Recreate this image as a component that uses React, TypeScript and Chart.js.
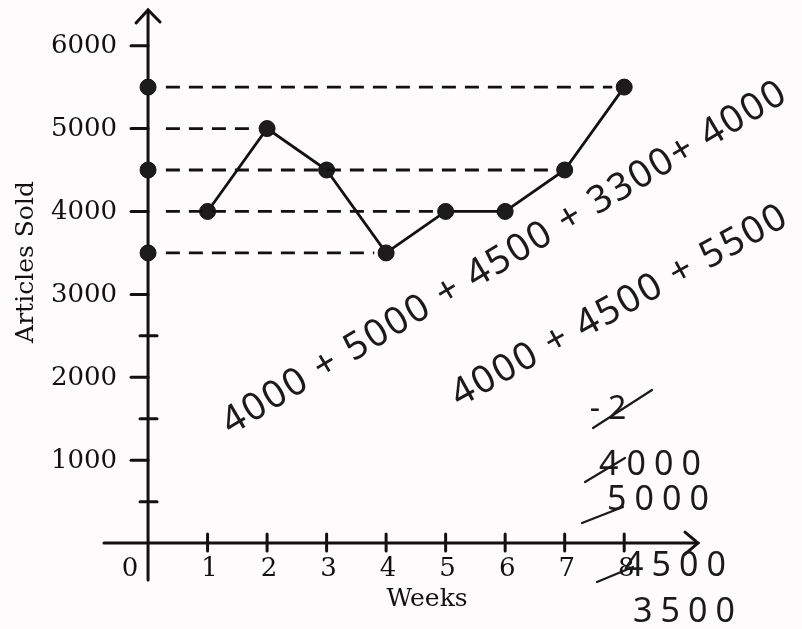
import { useEffect, useRef } from "react";
import { Chart, registerables } from "chart.js";

Chart.register(...registerables);

// ---- data ----
const weeks = [1, 2, 3, 4, 5, 6, 7, 8];
const articlesSold = [4000, 5000, 4500, 3500, 4000, 4000, 4500, 5500];
const axisMarkValues = [3500, 4500, 5500];
const guideLevels = [5500, 5000, 4500, 4000, 3500];
const guideEndWeeks = [8, 2, 7, 5, 4];
const yMajorTicks = [1000, 2000, 3000, 4000, 5000, 6000];
const yMinorTicks = [500, 1500, 2500];
const xTicks = [1, 2, 3, 4, 5, 6, 7, 8];
const xTickLabels = ["1", "2", "3", "4", "5", "6", "7", "8"];
const originLabel = "0";
const yAxisTitle = "Articles Sold";
const xAxisTitle = "Weeks";
const noteSumA = "4000 + 5000 + 4500 + 3300+ 4000";
const noteSumB = "4000 + 4500 + 5500";
const noteColumn = ["-2", "4000", "5000", "4500", "3500"];

const W = 802;
const H = 629;

const axesPlugin = {
  id: "handAxes",
  beforeDatasetsDraw(chart: any) {
    const { ctx, scales } = chart;
    const xs = scales.x;
    const ys = scales.y;
    const x0 = xs.getPixelForValue(0);
    const y0 = ys.getPixelForValue(0);
    const left = xs.getPixelForValue(xs.min);
    const right = xs.getPixelForValue(xs.max);
    const top = ys.getPixelForValue(ys.max);
    const bottom = ys.getPixelForValue(ys.min);
    ctx.save();
    ctx.strokeStyle = "#111";
    ctx.lineWidth = 3;
    ctx.lineCap = "round";
    // y axis
    ctx.beginPath();
    ctx.moveTo(x0, bottom);
    ctx.lineTo(x0, top + 1);
    ctx.stroke();
    ctx.beginPath();
    ctx.moveTo(x0 - 12, top + 14);
    ctx.lineTo(x0, top + 1);
    ctx.lineTo(x0 + 12, top + 13);
    ctx.stroke();
    // x axis
    ctx.beginPath();
    ctx.moveTo(left, y0);
    ctx.lineTo(right, y0);
    ctx.stroke();
    ctx.beginPath();
    ctx.moveTo(right - 13, y0 - 11);
    ctx.lineTo(right, y0);
    ctx.lineTo(right - 13, y0 + 11);
    ctx.stroke();
    // y ticks
    for (const v of yMajorTicks) {
      const y = ys.getPixelForValue(v);
      ctx.beginPath();
      ctx.moveTo(x0 - 17, y);
      ctx.lineTo(x0, y);
      ctx.stroke();
    }
    for (const v of yMinorTicks) {
      const y = ys.getPixelForValue(v);
      ctx.beginPath();
      ctx.moveTo(x0 - 8, y);
      ctx.lineTo(x0 + 9, y);
      ctx.stroke();
    }
    // x ticks
    for (const v of xTicks) {
      const x = xs.getPixelForValue(v);
      ctx.beginPath();
      ctx.moveTo(x, y0 - 9);
      ctx.lineTo(x, y0 + 8);
      ctx.stroke();
    }
    ctx.restore();
  },
  afterDraw(chart: any) {
    const { ctx, scales, chartArea } = chart;
    const xs = scales.x;
    const ys = scales.y;
    const x0 = xs.getPixelForValue(0);
    const y0 = ys.getPixelForValue(0);
    ctx.save();
    ctx.fillStyle = "#111";
    ctx.font = '26px "DejaVu Serif"';
    ctx.textAlign = "right";
    ctx.textBaseline = "middle";
    for (const v of yMajorTicks) {
      ctx.fillText(String(v), x0 - 31, ys.getPixelForValue(v) + 1);
    }
    ctx.textAlign = "center";
    xTicks.forEach((v, i) => {
      ctx.fillText(xTickLabels[i], xs.getPixelForValue(v) + 2, y0 + 26);
    });
    ctx.fillText(originLabel, x0 - 18, y0 + 26);
    // axis titles
    ctx.font = '25px "DejaVu Serif"';
    ctx.fillText(xAxisTitle, (chartArea.left + chartArea.right) / 2 + 26, y0 + 56);
    ctx.save();
    ctx.translate(26, 262);
    ctx.rotate(-Math.PI / 2);
    ctx.fillText(yAxisTitle, 0, 0);
    ctx.restore();

    // handwritten notes
    ctx.fillStyle = "#1a1a1a";
    ctx.strokeStyle = "#1a1a1a";
    ctx.lineWidth = 2.2;
    ctx.lineCap = "round";
    ctx.textBaseline = "middle";
    (ctx as any).letterSpacing = "2px";
    ctx.font = '38px "Noto Sans"';
    ctx.save();
    ctx.translate(505, 258);
    ctx.rotate((-31 * Math.PI) / 180);
    ctx.fillText(noteSumA, 0, 0);
    ctx.restore();
    ctx.save();
    ctx.translate(620, 306);
    ctx.rotate((-29 * Math.PI) / 180);
    ctx.fillText(noteSumB, 0, 0);
    ctx.restore();

    (ctx as any).letterSpacing = "8px";
    const colPos = [
      [612, 410, 32],
      [654, 465, 34],
      [662, 500, 34],
      [679, 566, 34],
      [688, 612, 34],
    ];
    noteColumn.forEach((t, i) => {
      const [x, y, s] = colPos[i];
      ctx.font = `${s}px "Noto Sans"`;
      ctx.fillText(t, x, y);
    });
    // strike-throughs
    const strikes = [
      [593, 428, 652, 390],
      [585, 482, 625, 458],
      [582, 523, 623, 507],
      [597, 582, 633, 567],
    ];
    for (const [a, b, c, d] of strikes) {
      ctx.beginPath();
      ctx.moveTo(a, b);
      ctx.lineTo(c, d);
      ctx.stroke();
    }
    ctx.restore();
  },
};

export default function App() {
  const ref = useRef<HTMLCanvasElement | null>(null);

  useEffect(() => {
    if (!ref.current) return;
    const guideSets = guideLevels.map((lvl, i) => ({
      label: `guide ${lvl}`,
      data: [
        { x: 0.3, y: lvl },
        { x: guideEndWeeks[i] - 0.2, y: lvl },
      ],
      showLine: true,
      borderColor: "#111",
      borderWidth: 2.8,
      borderDash: [14, 9],
      pointRadius: 0,
      fill: false,
    }));
    const chart = new Chart(ref.current, {
      type: "scatter",
      data: {
        datasets: [
          ...guideSets,
          {
            label: "Articles Sold",
            data: weeks.map((w, i) => ({ x: w, y: articlesSold[i] })),
            showLine: true,
            borderColor: "#111",
            borderWidth: 2.8,
            pointRadius: 8,
            pointBackgroundColor: "#1c1c1c",
            pointBorderColor: "#111",
            pointBorderWidth: 1,
            tension: 0,
          },
          {
            label: "axis marks",
            data: axisMarkValues.map((v) => ({ x: 0, y: v })),
            showLine: false,
            pointRadius: 8,
            pointBackgroundColor: "#1c1c1c",
            pointBorderColor: "#111",
            pointBorderWidth: 1,
          },
        ],
      },
      options: {
        responsive: false,
        animation: false,
        layout: { padding: { left: 104, right: 104, top: 7, bottom: 49 } },
        plugins: {
          legend: { display: false },
          tooltip: { enabled: false },
        },
        scales: {
          x: { type: "linear", min: -0.74, max: 9.24, display: false },
          y: { type: "linear", min: -445, max: 6442, display: false },
        },
      },
      plugins: [axesPlugin],
    });
    return () => chart.destroy();
  }, []);

  return (
    <div
      style={{
        position: "fixed",
        left: 0,
        top: 0,
        width: W,
        height: H,
        background: "#fdfbfb",
      }}
    >
      <canvas ref={ref} width={W} height={H} style={{ width: W, height: H, display: "block" }} />
    </div>
  );
}
